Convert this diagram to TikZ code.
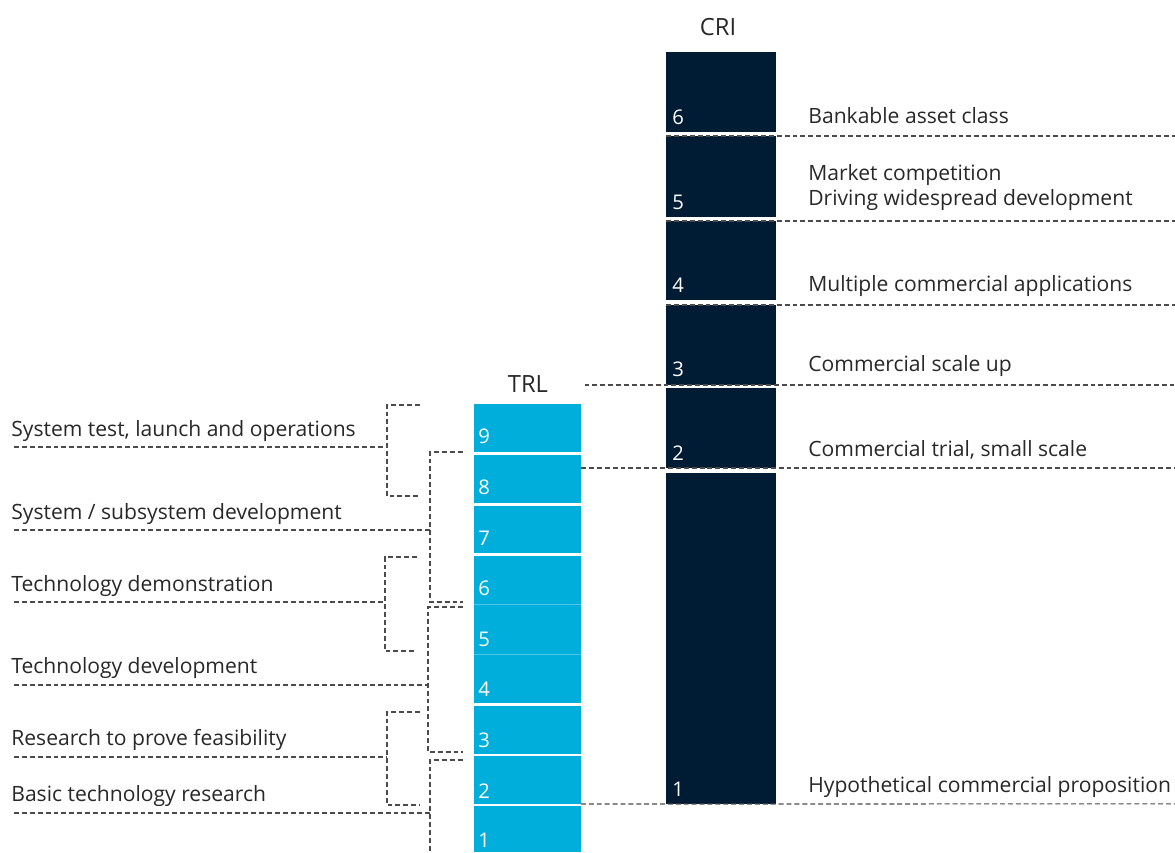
\documentclass[tikz,border=0pt]{standalone}
\usepackage{fontspec}
\setmainfont{Open Sans}
\usetikzlibrary{positioning}
\definecolor{trlcyan}{RGB}{0,174,219}
\definecolor{trlline}{RGB}{80,196,231}
\definecolor{crinavy}{RGB}{0,27,52}
\definecolor{txtgrey}{RGB}{40,40,40}
\definecolor{dashgrey}{RGB}{75,75,75}

\begin{document}
\begin{tikzpicture}[x=0.02cm,y=-0.02cm,
	trlbox/.style={fill=trlcyan, minimum width=2.14cm, inner sep=0pt, outer sep=0pt, anchor=north west},
	cribox/.style={fill=crinavy, minimum width=2.2cm, inner sep=0pt, outer sep=0pt, anchor=north west},
	num/.style={text=white, font=\fontsize{11.5}{13}\selectfont, anchor=base west, inner sep=0pt},
	lbl/.style={text=txtgrey, font=\fontsize{12}{14}\selectfont, anchor=base west, inner sep=0pt},
	ttl/.style={text=txtgrey, font=\fontsize{13.5}{15}\selectfont, anchor=base, inner sep=0pt},
	dashline/.style={draw=dashgrey, line width=0.6pt, dash pattern=on 2.8pt off 1.7pt}]
	%\draw[help lines] (0,0) grid[step=50] (1175,852);
	\useasboundingbox (0,0) rectangle (1175,852);
	\coordinate (rim) at (1175,0);
	
	% CRI column
	\node[ttl] (crititle) at (718,35) {CRI};
	\node[cribox, minimum height=1.6cm]  (c6) at (666,52)  {};
	\node[cribox, minimum height=1.62cm] (c5) at (666,136) {};
	\node[cribox, minimum height=1.58cm] (c4) at (666,221) {};
	\node[cribox, minimum height=1.6cm]  (c3) at (666,305) {};
	\node[cribox, minimum height=1.6cm]  (c2) at (666,388) {};
	\node[cribox, minimum height=6.62cm] (c1) at (666,473) {};
	
	\node[num] (cn6) at (672,124) {6};
	\node[num] (cn5) at (672,209) {5};
	\node[num] (cn4) at (672,292) {4};
	\node[num] (cn3) at (672,376) {3};
	\node[num] (cn2) at (672,460) {2};
	\node[num] (cn1) at (672,796) {1};
	
	% TRL column
	\node[ttl] (trltitle) at (528,392) {TRL};
	\node[trlbox, minimum height=0.96cm] (t9) at (474,404) {};
	\node[trlbox, minimum height=0.96cm] (t8) at (474,455) {};
	\node[trlbox, minimum height=0.94cm] (t7) at (474,506) {};
	\node[trlbox, minimum height=0.96cm] (t6) at (474,556) {};
	\node[trlbox, minimum height=1.0cm]  (t5) at (474,604) {};
	\node[trlbox, minimum height=0.98cm] (t4) at (474,654) {};
	\node[trlbox, minimum height=0.96cm] (t3) at (474,706) {};
	\node[trlbox, minimum height=0.96cm] (t2) at (474,756) {};
	\node[trlbox, minimum height=0.92cm] (t1) at (474,806) {};
	\draw[trlline, line width=0.5pt] (t5.north west) -- (t5.north east);
	\draw[trlline, line width=0.5pt] (t4.north west) -- (t4.north east);
	
	\node[num] (tn9) at (478,443) {9};
	\node[num] (tn8) at (478,494) {8};
	\node[num] (tn7) at (478,545) {7};
	\node[num] (tn6) at (478,595) {6};
	\node[num] (tn5) at (478,646) {5};
	\node[num] (tn4) at (478,696) {4};
	\node[num] (tn3) at (478,747) {3};
	\node[num] (tn2) at (478,798) {2};
	\node[num] (tn1) at (478,847) {1};
	
	% CRI stages
	\node[lbl] (cl6) at (808,123) {Bankable asset class};
	\node[lbl] (cl5a) at (808,180) {Market competition};
	\node[lbl] (cl5b) at (808,205) {Driving widespread development};
	\node[lbl] (cl4) at (808,291) {Multiple commercial applications};
	\node[lbl] (cl3) at (808,371) {Commercial scale up};
	\node[lbl] (cl2) at (808,456) {Commercial trial, small scale};
	\node[lbl] (cl1) at (808,792) {Hypothetical commercial proposition};
	
	\draw[dashline] (c5.north west) -- (c5.north -| rim);
	\draw[dashline] (c4.north west) -- (c4.north -| rim);
	\draw[dashline] (c3.north west) -- (c3.north -| rim);
	\draw[dashline] ([xshift=2]c3.south -| t9.east) -- (c3.south -| rim);
	\draw[dashline] (c2.south -| t8.east) -- (c2.south -| rim);
	\draw[dashline] (t2.south east) -- (c1.south -| rim);
	
	% TRL stages
	\node[lbl] (tl1) at (11,436) {System test, launch and operations};
	\node[lbl] (tl2) at (11,519) {System / subsystem development};
	\node[lbl] (tl3) at (11,591) {Technology demonstration};
	\node[lbl] (tl4) at (11,673) {Technology development};
	\node[lbl] (tl5) at (11,745) {Research to prove feasibility};
	\node[lbl] (tl6) at (11,801) {Basic technology research};
	
	\draw[dashline] (420,405) -- (387,405) -- (387,496) -- (420,496);
	\draw[dashline] (14,447) -- (387,447);
	\draw[dashline] (463,452) -- (430,452) -- (430,602) -- (463,602);
	\draw[dashline] (14,530) -- (430,530);
	\draw[dashline] (417,557) -- (385,557) -- (385,651) -- (417,651);
	\draw[dashline] (14,602) -- (385,602);
	\draw[dashline] (463,607) -- (428,607) -- (428,752) -- (463,752);
	\draw[dashline] (14,685) -- (428,685);
	\draw[dashline] (420,712) -- (387,712) -- (387,805) -- (420,805);
	\draw[dashline] (14,757) -- (387,757);
	\draw[dashline] (463,760) -- (430,760) -- (430,852);
	\draw[dashline] (14,813) -- (430,813);
\end{tikzpicture}
\end{document}
